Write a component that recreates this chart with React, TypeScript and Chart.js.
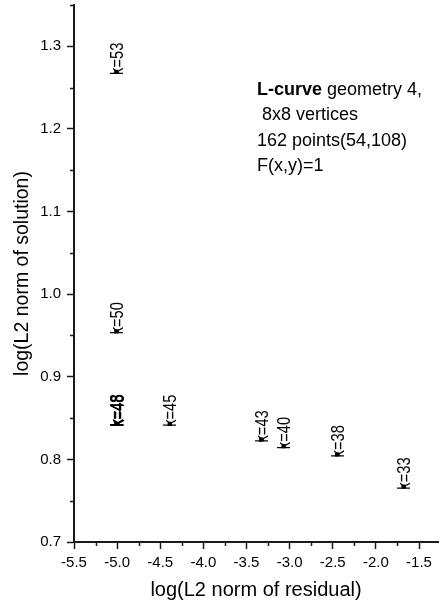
import React, { useEffect, useRef } from "react";
import { Chart, registerables } from "chart.js";

Chart.register(...registerables);

// Data
const residualLog = [-5.01, -5.01, -5.01, -4.39, -3.33, -3.07, -2.45, -1.68];
const solutionLog = [1.269, 0.955, 0.843, 0.843, 0.824, 0.816, 0.806, 0.767];
const pointLabels = ["k=53", "k=50", "k=48", "k=45", "k=43", "k=40", "k=38", "k=33"];
const boldLabels = [false, false, true, false, false, false, false, false];

const xMajorTicks = [-5.5, -5.0, -4.5, -4.0, -3.5, -3.0, -2.5, -2.0, -1.5];
const xMinorTicks = [-5.25, -4.75, -4.25, -3.75, -3.25, -2.75, -2.25, -1.75];
const yMajorTicks = [0.7, 0.8, 0.9, 1.0, 1.1, 1.2, 1.3];
const yMinorTicks = [0.75, 0.85, 0.95, 1.05, 1.15, 1.25, 1.35];

const xTitle = "log(L2 norm of residual)";
const yTitle = "log(L2 norm of solution)";
const noteBold = "L-curve";
const noteLines = [" geometry 4,", " 8x8 vertices", "162 points(54,108)", "F(x,y)=1"];

const FONT = "'Liberation Sans', Arial, Helvetica, sans-serif";
const AXIS_COLOR = "#1a1a1a";

export default function App() {
  const canvasRef = useRef<HTMLCanvasElement | null>(null);

  useEffect(() => {
    const canvas = canvasRef.current;
    if (!canvas) return;

    const extrasPlugin = {
      id: "extras",
      afterDraw(chart: any) {
        const ctx = chart.ctx as CanvasRenderingContext2D;
        const xs = chart.scales.x;
        const ys = chart.scales.y;
        const area = chart.chartArea;
        ctx.save();
        // minor ticks
        ctx.strokeStyle = AXIS_COLOR;
        ctx.lineWidth = 1.5;
        ctx.beginPath();
        xMinorTicks.forEach((v) => {
          const px = Math.round(xs.getPixelForValue(v)) + 0.5;
          ctx.moveTo(px, area.bottom);
          ctx.lineTo(px, area.bottom + 4);
        });
        yMinorTicks.forEach((v) => {
          const py = Math.round(ys.getPixelForValue(v)) + 0.5;
          ctx.moveTo(area.left, py);
          ctx.lineTo(area.left - 4, py);
        });
        ctx.stroke();

        // point labels (rotated, starting at the marker)
        const meta = chart.getDatasetMeta(0);
        ctx.fillStyle = "#000";
        ctx.font = `14px ${FONT}`;
        ctx.textAlign = "left";
        ctx.textBaseline = "middle";
        meta.data.forEach((el: any, i: number) => {
          ctx.save();
          ctx.translate(el.x + 1.5, el.y + 3);
          ctx.rotate(-Math.PI / 2);
          ctx.scale(1.05, 1.3);
          ctx.fillText(pointLabels[i], 0, 0);
          if (boldLabels[i]) {
            ctx.fillText(pointLabels[i], 0, 0.6);
            ctx.fillText(pointLabels[i], 0.5, 0);
          }
          ctx.restore();
        });

        // annotation text
        const nx = area.left + 183;
        const ny = area.top + 85;
        const lh = 25.5;
        ctx.textBaseline = "middle";
        ctx.font = `bold 18px ${FONT}`;
        ctx.fillText(noteBold, nx, ny);
        const bw = ctx.measureText(noteBold).width;
        ctx.font = `18px ${FONT}`;
        ctx.fillText(noteLines[0], nx + bw, ny);
        for (let i = 1; i < noteLines.length; i++) {
          ctx.fillText(noteLines[i], nx, ny + lh * i);
        }
        ctx.restore();
      },
    };

    const chart = new Chart(canvas, {
      type: "scatter",
      data: {
        datasets: [
          {
            data: residualLog.map((x, i) => ({ x, y: solutionLog[i] })),
            pointStyle: "rect",
            pointRadius: 3,
            backgroundColor: "#000",
            borderColor: "#000",
            borderWidth: 0,
            showLine: false,
          },
        ],
      },
      options: {
        animation: false,
        responsive: false,
        layout: { padding: { top: 5, right: 0, left: 0, bottom: 0 } },
        plugins: {
          legend: { display: false },
          tooltip: { enabled: false },
        },
        scales: {
          x: {
            type: "linear",
            min: -5.5,
            max: -1.28,
            afterBuildTicks: (s: any) => {
              s.ticks = xMajorTicks.map((v) => ({ value: v }));
            },
            afterFit: (s: any) => {
              s.height = 62;
              s.paddingLeft = 0;
              s.paddingRight = 0;
            },
            grid: {
              drawOnChartArea: false,
              drawTicks: true,
              tickLength: 7,
              tickWidth: 1.5,
              tickColor: AXIS_COLOR,
            },
            border: { display: true, color: AXIS_COLOR, width: 2 },
            ticks: {
              color: "#000",
              padding: 5,
              maxRotation: 0,
              font: { family: FONT, size: 15 },
              callback: (v: any) => Number(v).toFixed(1),
            },
            title: {
              display: true,
              text: xTitle,
              color: "#000",
              font: { family: FONT, size: 20 },
              padding: { top: 0, bottom: 2 },
            },
          },
          y: {
            type: "linear",
            min: 0.7,
            max: 1.35,
            afterBuildTicks: (s: any) => {
              s.ticks = yMajorTicks.map((v) => ({ value: v }));
            },
            afterFit: (s: any) => {
              s.width = 74;
              s.paddingTop = 0;
              s.paddingBottom = 0;
            },
            grid: {
              drawOnChartArea: false,
              drawTicks: true,
              tickLength: 7,
              tickWidth: 1.5,
              tickColor: AXIS_COLOR,
            },
            border: { display: true, color: AXIS_COLOR, width: 2 },
            ticks: {
              color: "#000",
              padding: 6,
              font: { family: FONT, size: 15 },
              callback: (v: any) => Number(v).toFixed(1),
            },
            title: {
              display: true,
              text: yTitle,
              color: "#000",
              font: { family: FONT, size: 19.5 },
              padding: { top: 11, bottom: 0 },
            },
          },
        },
      },
      plugins: [extrasPlugin],
    });

    return () => chart.destroy();
  }, []);

  return (
    <div style={{ position: "absolute", left: 0, top: 0, width: 442, height: 604, background: "#fff" }}>
      <canvas ref={canvasRef} width={442} height={604} style={{ display: "block" }} />
    </div>
  );
}
